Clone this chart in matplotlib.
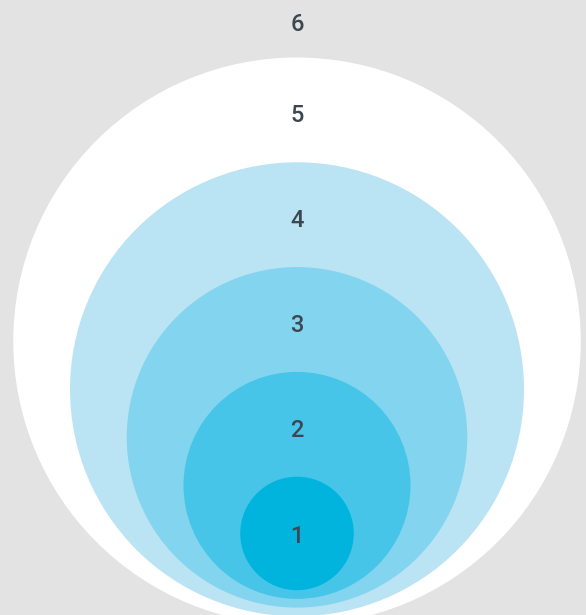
import matplotlib
matplotlib.use("Agg")
import matplotlib.pyplot as plt
from matplotlib.patches import Circle

# Data: nested levels (innermost first) and their relative radii
levels = ["1", "2", "3", "4", "5", "6"]
radius_units = [1, 2, 3, 4, 5]          # level 6 is the open background
colors = ["#00b4de", "#46c5e8", "#83d4ee", "#bae3f4", "#ffffff"]
bg_color = "#e3e3e3"
text_color = "#3d4752"

W, H = 586, 615
fig = plt.figure(figsize=(W / 100, H / 100), dpi=100, facecolor=bg_color)
ax = fig.add_axes([0, 0, 1, 1])
ax.set_xlim(0, W)
ax.set_ylim(H, 0)
ax.set_aspect("equal")
ax.axis("off")
ax.set_facecolor(bg_color)

cx = 297
unit = 56.75
bottom0 = 581.5
bottom_step = 8.7

for i in range(len(radius_units) - 1, -1, -1):
    r = unit * radius_units[i]
    bottom = bottom0 + bottom_step * radius_units[i]
    cy = bottom - r
    ax.add_patch(Circle((cx, cy), r, facecolor=colors[i], edgecolor="none", zorder=10 - i))

for i, lv in enumerate(levels):
    if i < len(radius_units):
        r = unit * radius_units[i]
        cy = bottom0 + bottom_step * radius_units[i] - r
        y = cy + 1 if i == 0 else cy - r + 56
    else:
        y = 22
    ax.text(cx, y, lv, ha="center", va="center_baseline", fontsize=17, color=text_color,
            family=["Roboto", "DejaVu Sans"], fontweight="medium", zorder=20)

fig.savefig("out.png", dpi=100, facecolor=bg_color)
